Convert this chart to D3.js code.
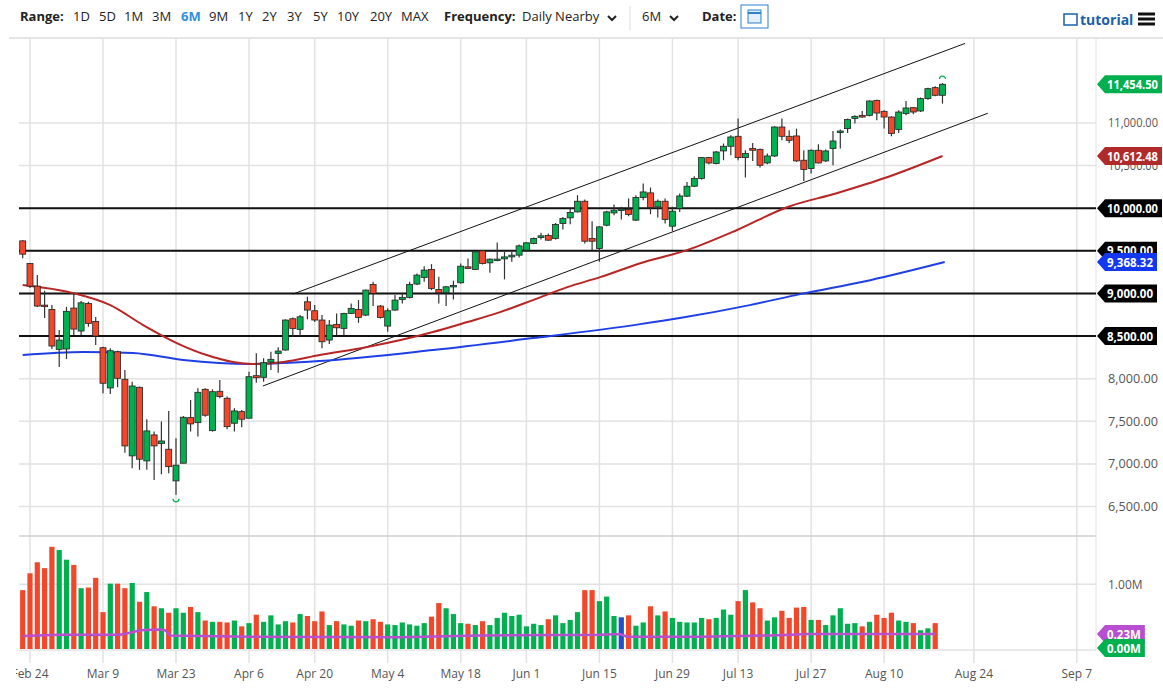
<!DOCTYPE html>
<html>
<head>
<meta charset="utf-8">
<script src="https://cdn.jsdelivr.net/npm/d3@7"></script>
<style>
  body { margin: 0; background: #fff; font-family: "Open Sans", sans-serif; }
  svg text { font-family: "Open Sans", sans-serif; }
</style>
</head>
<body>
<svg width="1163" height="690"></svg>
<script>
// ---- data (one entry per trading day, Feb 21 .. Aug 21) ----
var opens = [9617,9352,9086,8863,8813,8344,8348,8828,8559,8883,
  8672,8363,7891,8316,7993,7094,7899,7035,7340,7238,
  7172,6801,7008,7543,7484,7875,7390,7852,7770,7477,
  7613,7536,8035,8016,8195,8297,8336,8703,8579,8902,
  8797,8688,8453,8637,8590,8766,8813,8746,9106,8852,
  8617,8805,8930,8954,9110,9188,9282,9047,9008,9086,
  9125,9312,9282,9500,9359,9391,9406,9429,9449,9508,
  9586,9657,9680,9645,9821,9887,9957,10082,9645,9528,
  9801,9945,9989,9985,9860,10126,10180,10016,10082,9789,
  9997,10141,10258,10348,10594,10524,10672,10727,10844,10594,
  10700,10688,10531,10613,10953,10844,10848,10563,10466,10680,
  10555,10700,10891,10934,11052,11090,11090,11266,11137,11070,
  10923,11110,11180,11141,11286,11415,11325];
var highs = [9625,9356,9215,9031,8863,8570,8843,9004,8910,8902,
  8723,8375,8356,8328,8102,7965,7906,7524,7379,7496,
  7621,7301,7562,7750,7887,7887,7875,7984,7790,7653,
  7633,8082,8297,8239,8316,8368,8696,8719,8746,8961,
  8863,8746,8688,8766,8773,8883,8922,9047,9136,8863,
  8825,8981,9008,9136,9235,9320,9344,9195,9086,9148,
  9352,9411,9500,9508,9411,9598,9488,9488,9575,9605,
  9657,9711,9703,9828,9898,9997,10153,10102,9848,9789,
  9969,10044,10016,10114,10153,10290,10243,10102,10114,10016,
  10173,10308,10375,10601,10601,10672,10759,10856,11052,10680,
  10766,10700,10641,10961,11052,10914,10934,10680,10688,10750,
  10688,10906,10923,11052,11090,11141,11266,11274,11149,11078,
  11149,11258,11187,11298,11415,11430,11469];
var lows = [9414,9063,8840,8711,8348,8137,8231,8512,8512,8609,
  8395,7828,7820,7899,7132,6950,6930,6930,6812,6879,
  6891,6637,7008,7379,7320,7554,7379,7770,7407,7379,
  7430,7536,7953,7965,8102,8070,8328,8492,8500,8696,
  8664,8356,8406,8512,8512,8758,8656,8735,8852,8707,
  8550,8797,8883,8942,9098,9136,9039,8883,8852,8930,
  9118,9293,9274,9340,9242,9379,9165,9371,9422,9488,
  9578,9633,9617,9633,9751,9813,9950,9586,9508,9371,
  9789,9918,9868,9906,9851,10094,9930,9891,9821,9734,
  9957,10133,10250,10337,10516,10516,10563,10621,10563,10360,
  10555,10477,10516,10601,10797,10766,10543,10320,10407,10524,
  10543,10504,10700,10883,10993,11063,11078,11032,10934,10844,
  10883,11090,11102,11129,11274,11313,11227];
var closes = [9461,9086,8852,8848,8383,8453,8790,8582,8890,8649,
  8500,7946,8328,8004,7211,7914,7055,7387,7211,7269,
  6968,6985,7547,7469,7840,7571,7847,7789,7437,7621,
  7524,8023,8011,8187,8227,8324,8688,8590,8726,8805,
  8688,8433,8629,8597,8766,8825,8719,9039,9001,8719,
  8797,8922,8954,9106,9215,9274,9059,9008,9078,9094,
  9320,9297,9488,9352,9403,9403,9429,9449,9558,9594,
  9645,9676,9625,9809,9880,9950,10082,9613,9613,9781,
  9957,9977,9990,9926,10126,10191,10008,10082,9868,9965,
  10144,10258,10348,10594,10531,10660,10727,10836,10594,10641,
  10680,10504,10613,10953,10844,10797,10555,10454,10680,10531,
  10672,10789,10906,11040,11078,11070,11258,11117,11070,10876,
  11129,11176,11129,11286,11403,11325,11454.5];
// volume in millions, none shown yet for the last day
var volumes = [0.91,1.17,1.34,1.25,1.58,1.53,1.38,1.30,0.94,0.95,
  1.10,0.57,1.01,1.01,0.94,1.02,0.73,0.88,0.66,0.63,
  0.56,0.63,0.56,0.65,0.57,0.44,0.42,0.42,0.41,0.44,
  0.35,0.40,0.53,0.42,0.52,0.38,0.43,0.41,0.54,0.51,
  0.43,0.58,0.37,0.43,0.38,0.36,0.44,0.43,0.46,0.42,
  0.38,0.37,0.41,0.38,0.36,0.40,0.50,0.71,0.63,0.54,
  0.40,0.39,0.37,0.43,0.37,0.48,0.56,0.51,0.53,0.35,
  0.39,0.37,0.46,0.52,0.40,0.45,0.57,0.91,0.91,0.74,
  0.81,0.51,0.49,0.52,0.36,0.41,0.66,0.52,0.58,0.48,
  0.42,0.41,0.41,0.48,0.46,0.48,0.61,0.53,0.74,0.91,
  0.72,0.63,0.44,0.49,0.59,0.48,0.64,0.65,0.45,0.45,
  0.37,0.52,0.63,0.39,0.40,0.35,0.42,0.53,0.48,0.56,
  0.44,0.42,0.40,0.29,0.32,0.40,null];

// moving averages as [day index, value]
var ma50 = [[0,9098],[6.9,9004],[12,8863],[16.5,8629],[21.1,8418],[25.2,8277],[28.8,8195],[31.5,8172],
  [35.7,8195],[40.7,8277],[47.2,8371],[56.2,8547],[60.9,8664],[65.4,8781],[69.9,8922],[74.6,9074],
  [79.1,9191],[84.6,9355],[91,9508],[97.8,9742],[104.7,10012],[111.5,10176],[118.4,10363],[126,10612.48]];
var ma200 = [[0,8277],[8.3,8312],[15.1,8301],[22,8219],[31.1,8172],[40.7,8207],[56.2,8336],[69.9,8476],
  [84.6,8640],[90,8711],[99.6,8863],[106.5,8992],[116.1,9156],[126.3,9368.32]];
var volMa = [[0,0.20],[5,0.22],[13.3,0.22],[14.7,0.25],[16.1,0.29],[18.8,0.30],[19.5,0.29],[20.2,0.21],
  [31,0.19],[51.7,0.18],[62.6,0.21],[79,0.22],[81.8,0.23],[82.8,0.19],[92.8,0.19],[102.4,0.21],[107.8,0.23],[125,0.23]];

// channel lines and horizontal levels
var channelUpper = [[37,8992],[129.1,11934]];
var channelLower = [[32.9,7914],[132.2,11114]];
var levels = [10000, 9500, 9000, 8500];

// axis ticks
var priceTicks = [6500,7000,7500,8000,8500,9000,9500,10000,10500,11000];
var dateTickIdx = [1,11,21,31,40,50,60,69,79,89,98,108,118,130.3,144.4];
var dateTickLabels = ["Feb 24","Mar 9","Mar 23","Apr 6","Apr 20","May 4","May 18","Jun 1","Jun 15","Jun 29","Jul 13","Jul 27","Aug 10","Aug 24","Sep 7"];

var rangeLabels = ["1D","5D","1M","3M","6M","9M","1Y","2Y","3Y","5Y","10Y","20Y","MAX"];
var rangeX = [73,99,124,152,181,209,238,262,287,313,337,370,401];

var svg = d3.select("svg");
var plot = {left: 19, right: 1096, top: 38, mid: 536, bottom: 651};

var x = d3.scaleLinear().domain([0, 10]).range([22.7, 95.7]);
var y = d3.scaleLinear().domain([6500, 11000]).range([506.5, 123]);
var yv = d3.scaleLinear().domain([0, 1]).range([649, 584.3]);

var GREEN = "#00b04f", RED = "#f2472a";

/** header bar **/
function draw_header(){
  var h = svg.append("g").attr("font-size", 13).attr("fill", "#222");
  h.append("text").attr("x", 20).attr("y", 21).attr("font-weight", "bold").text("Range:");
  rangeLabels.forEach(function(t, i){
    h.append("text").attr("x", rangeX[i]).attr("y", 21)
      .attr("fill", t == "6M" ? "#2f8fe0" : "#222")
      .attr("font-weight", t == "6M" ? "bold" : "normal").text(t);
  });
  h.append("text").attr("x", 444).attr("y", 21).attr("font-weight", "bold").text("Frequency:");
  h.append("text").attr("x", 522).attr("y", 21).text("Daily Nearby");
  h.append("text").attr("x", 642).attr("y", 21).text("6M");
  h.append("text").attr("x", 702).attr("y", 21).attr("font-weight", "bold").text("Date:");
  [608, 670].forEach(function(cx){
    h.append("path").attr("d", "M" + cx + ",16 l4,4 l4,-4")
      .attr("fill", "none").attr("stroke", "#222").attr("stroke-width", 2);
  });
  h.append("line").attr("x1", 630).attr("x2", 630).attr("y1", 6).attr("y2", 30).attr("stroke", "#ddd");
  // calendar button
  h.append("rect").attr("x", 741).attr("y", 5).attr("width", 27).attr("height", 23)
    .attr("fill", "#fff").attr("stroke", "#2f7fd0");
  h.append("rect").attr("x", 748).attr("y", 10).attr("width", 13).attr("height", 13)
    .attr("fill", "#e3effa").attr("stroke", "#2f7fd0");
  h.append("line").attr("x1", 748).attr("x2", 761).attr("y1", 13).attr("y2", 13).attr("stroke", "#2f7fd0").attr("stroke-width", 2);
  // tutorial link and menu
  h.append("rect").attr("x", 1064).attr("y", 14).attr("width", 13).attr("height", 11)
    .attr("fill", "none").attr("stroke", "#1a5fa8").attr("stroke-width", 1.5);
  h.append("text").attr("x", 1080).attr("y", 25).attr("fill", "#1a5fa8")
    .attr("font-weight", "bold").attr("font-size", 14).text("tutorial");
  [14, 19, 24].forEach(function(yy){
    h.append("rect").attr("x", 1138).attr("y", yy - 1.5).attr("width", 17).attr("height", 3).attr("fill", "#111");
  });
  svg.append("line").attr("x1", 9).attr("x2", 1163).attr("y1", 38).attr("y2", 38).attr("stroke", "#ccc");
}

/** gridlines and axes **/
function draw_axes(){
  var g = svg.append("g").attr("stroke", "#e2e2e2").attr("stroke-width", 1.5);
  priceTicks.forEach(function(t){
    g.append("line").attr("x1", plot.left).attr("x2", plot.right).attr("y1", y(t)).attr("y2", y(t));
  });
  g.append("line").attr("x1", plot.left).attr("x2", plot.right).attr("y1", yv(1)).attr("y2", yv(1));
  g.append("line").attr("x1", plot.left).attr("x2", plot.right).attr("y1", yv(0) + 1).attr("y2", yv(0) + 1);
  dateTickIdx.forEach(function(d){
    g.append("line").attr("x1", x(d)).attr("x2", x(d)).attr("y1", plot.top).attr("y2", plot.bottom + 12);
  });
  svg.append("line").attr("x1", plot.left).attr("x2", plot.right).attr("y1", plot.mid).attr("y2", plot.mid)
    .attr("stroke", "#cfcfcf").attr("stroke-width", 1.5);
  svg.append("line").attr("x1", plot.right).attr("x2", plot.right).attr("y1", plot.top).attr("y2", plot.bottom)
    .attr("stroke", "#e2e2e2");

  // tick labels hidden behind the level tags are left out
  var shown = priceTicks.filter(function(t){ return levels.indexOf(t) < 0; });
  var yAxis = d3.axisRight(y).tickValues(shown).tickSize(0).tickPadding(12).tickFormat(d3.format(",.2f"));
  var ya = svg.append("g").attr("transform", "translate(" + plot.right + ",0)").call(yAxis);
  ya.select(".domain").remove();
  ya.selectAll("text").attr("fill", "#555").attr("font-size", 12).attr("font-family", "Open Sans")
    .attr("textLength", 50).attr("lengthAdjust", "spacingAndGlyphs");

  var va = svg.append("g").attr("transform", "translate(" + plot.right + ",0)")
    .call(d3.axisRight(yv).tickValues([1]).tickSize(0).tickPadding(12).tickFormat(function(d){ return d.toFixed(1) + "0M"; }));
  va.select(".domain").remove();
  va.selectAll("text").attr("fill", "#555").attr("font-size", 12).attr("font-family", "Open Sans");

  svg.append("clipPath").attr("id", "xclip").append("rect")
    .attr("x", 16).attr("y", 650).attr("width", 1080).attr("height", 40);
  var xa = svg.append("g").attr("clip-path", "url(#xclip)");
  dateTickIdx.forEach(function(d, i){
    xa.append("text").attr("x", x(d)).attr("y", 678).attr("text-anchor", "middle")
      .attr("fill", "#555").attr("font-size", 12).text(dateTickLabels[i]);
  });
}

/** volume panel **/
function draw_volume(){
  var bars = volumes.map(function(v, i){ return {i: i, v: v, o: opens[i], c: closes[i]}; })
    .filter(function(d){ return d.v != null; });
  svg.append("g").selectAll("rect").data(bars).enter().append("rect")
    .attr("x", function(d){ return x(d.i) - 2.6; })
    .attr("width", 5.2)
    .attr("y", function(d){ return yv(d.v); })
    .attr("height", function(d){ return yv(0) - yv(d.v); })
    .attr("fill", function(d){ return Math.abs(d.c - d.o) < 2 ? "#2350c8" : (d.c > d.o ? GREEN : RED); });
  svg.append("path").datum(volMa)
    .attr("d", d3.line().x(function(d){ return x(d[0]); }).y(function(d){ return yv(d[1]); }))
    .attr("fill", "none").attr("stroke", "#b84fd0").attr("stroke-width", 2.5);
}

/** price panel **/
function draw_price(){
  svg.append("clipPath").attr("id", "pclip").append("rect")
    .attr("x", plot.left).attr("y", plot.top).attr("width", plot.right - plot.left).attr("height", plot.mid - plot.top);
  var p = svg.append("g").attr("clip-path", "url(#pclip)");

  levels.forEach(function(l){
    p.append("line").attr("x1", plot.left).attr("x2", plot.right).attr("y1", y(l)).attr("y2", y(l))
      .attr("stroke", "#111").attr("stroke-width", 2);
  });
  var line = d3.line().x(function(d){ return x(d[0]); }).y(function(d){ return y(d[1]); });
  [channelUpper, channelLower].forEach(function(c){
    p.append("path").datum(c).attr("d", line).attr("stroke", "#111").attr("stroke-width", 1).attr("fill", "none");
  });
  var smooth = d3.line().curve(d3.curveMonotoneX).x(function(d){ return x(d[0]); }).y(function(d){ return y(d[1]); });
  p.append("path").datum(ma200).attr("d", smooth).attr("stroke", "#1f3fe6").attr("stroke-width", 2).attr("fill", "none");
  p.append("path").datum(ma50).attr("d", smooth).attr("stroke", "#b82525").attr("stroke-width", 2).attr("fill", "none");

  var candles = opens.map(function(o, i){ return {i: i, o: o, h: highs[i], l: lows[i], c: closes[i]}; });
  var cg = p.append("g").selectAll("g").data(candles).enter().append("g");
  cg.append("line")
    .attr("x1", function(d){ return x(d.i); }).attr("x2", function(d){ return x(d.i); })
    .attr("y1", function(d){ return y(d.h); }).attr("y2", function(d){ return y(d.l); })
    .attr("stroke", "#333").attr("stroke-width", 1.2);
  cg.append("rect")
    .attr("x", function(d){ return x(d.i) - 3; }).attr("width", 6)
    .attr("y", function(d){ return y(Math.max(d.o, d.c)); })
    .attr("height", function(d){ return Math.max(1.5, Math.abs(y(d.o) - y(d.c))); })
    .attr("fill", function(d){ return d.c >= d.o ? GREEN : RED; })
    .attr("stroke", "#222").attr("stroke-width", 0.8);

  // markers at period high and low
  var hi = d3.maxIndex(highs), lo = d3.minIndex(lows);
  p.append("path").attr("d", "M" + (x(hi) - 3) + "," + (y(highs[hi]) - 4) + " a3,3 0 0,1 6,0")
    .attr("fill", "none").attr("stroke", GREEN).attr("stroke-width", 1.2);
  p.append("path").attr("d", "M" + (x(lo) - 3) + "," + (y(lows[lo]) + 4) + " a3,3 0 0,0 6,0")
    .attr("fill", "none").attr("stroke", GREEN).attr("stroke-width", 1.2);
}

/** value tags on the right, box sized to its text **/
function tag(yy, text, fill){
  var g = svg.append("g");
  var path = g.append("path").attr("fill", fill);
  var t = g.append("text").attr("x", 1107).attr("y", yy + 4.5).attr("fill", "#fff")
    .attr("font-weight", "bold").attr("font-size", 11.5).text(text);
  var w = t.node().getComputedTextLength();
  if(w > 51){ t.attr("textLength", 51).attr("lengthAdjust", "spacingAndGlyphs"); w = 51; }
  path.attr("d", "M1097," + yy + " L1105," + (yy - 9) + " H" + (1109 + w + 2) + " V" + (yy + 9) + " H1105 Z");
}

function draw_tags(){
  var f = d3.format(",.2f");
  levels.forEach(function(l){ tag(y(l), f(l), "#000"); });
  tag(y(ma200[ma200.length - 1][1]), f(ma200[ma200.length - 1][1]), "#1437f0");
  tag(y(ma50[ma50.length - 1][1]), f(ma50[ma50.length - 1][1]), "#b02a2a");
  tag(y(closes[closes.length - 1]), f(closes[closes.length - 1]), "#00b04f");
  tag(yv(volMa[volMa.length - 1][1]), volMa[volMa.length - 1][1].toFixed(2) + "M", "#b84fd0");
  tag(yv(0) - 1, "0.00M", "#00b04f");
}

draw_header();
draw_axes();
draw_volume();
draw_price();
draw_tags();
</script>
</body>
</html>
